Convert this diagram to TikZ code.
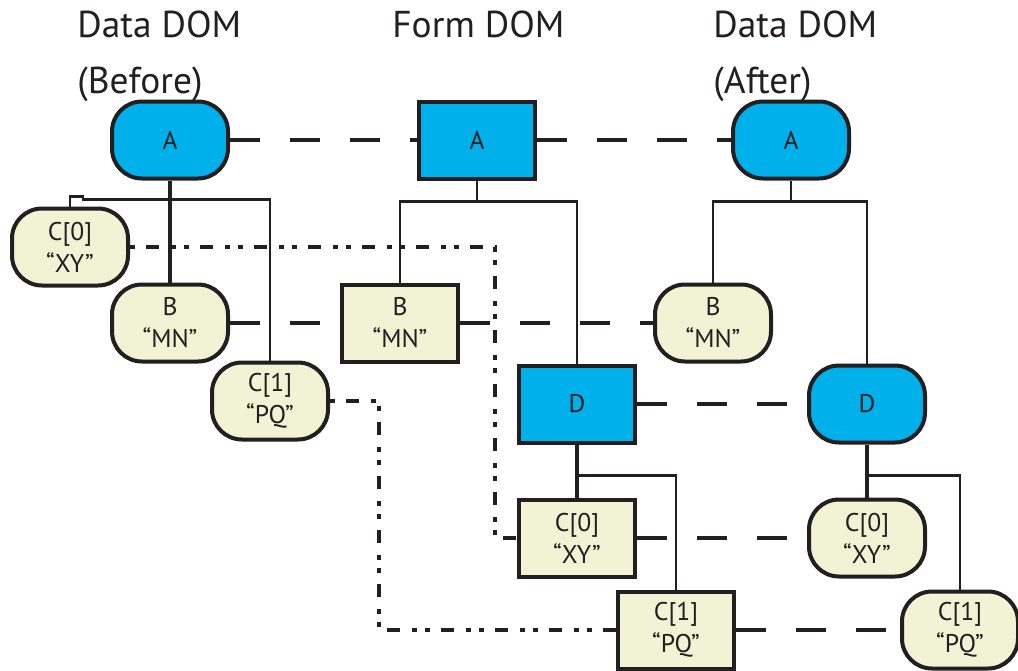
\documentclass[tikz,border=0pt]{standalone}
\usepackage{fontspec}
\setmainfont{PT Sans}
\usetikzlibrary{calc}
\definecolor{ink}{HTML}{231F20}
\definecolor{domblue}{HTML}{00B0EA}
\definecolor{domcream}{HTML}{F2F2D4}

\begin{document}
\begin{tikzpicture}[x=0.5pt,y=-0.5pt,color=ink]
\tikzstyle{box} = [rectangle, minimum width=58pt, minimum height=38.5pt, inner sep=0pt,
                   align=center, draw=ink, line width=2pt, fill=domcream,
                   font=\fontsize{12.8}{16}\selectfont]
\tikzstyle{datanode} = [box, rounded corners=15pt]
\tikzstyle{formnode} = [box]
\tikzstyle{keynode} = [fill=domblue]
\tikzstyle{title} = [anchor=base west, inner sep=0pt, font=\fontsize{18.7}{22}\selectfont]
\tikzstyle{link} = [line width=2pt, dash pattern=on 15pt off 15pt]
\tikzstyle{mapline} = [line width=2pt, dash pattern=on 2.5pt off 5.5pt on 6.5pt off 6pt on 2.5pt off 4pt]
\tikzstyle{trunk} = [line width=2pt]
\tikzstyle{branch} = [line width=1.2pt]
\useasboundingbox (0,0) rectangle (1018,670);
\node[title] (before) at (77,37) {Data DOM};
\node[title] (beforesub) at (77,93) {(Before)};
\node[title] (form) at (392,37) {Form DOM};
\node[title] (after) at (713,37) {Data DOM};
\node[title] (aftersub) at (713,93) {(After)};
\node[datanode, keynode] (bA) at (170,140) {A};
\node[formnode, keynode] (fA) at (477,140) {A};
\node[datanode, keynode] (aA) at (791,140) {A};
\node[datanode] (bC0) at (70,247) {C[0]\\“XY”};
\node[datanode] (bB) at (170,323) {B\\“MN”};
\node[formnode] (fB) at (400,323) {B\\“MN”};
\node[datanode] (aB) at (713,323) {B\\“MN”};
\node[datanode] (bC1) at (270,401) {C[1]\\“PQ”};
\node[formnode, keynode] (fD) at (577,404) {D};
\node[datanode, keynode] (aD) at (867,404) {D};
\node[formnode] (fC0) at (577,538) {C[0]\\“XY”};
\node[datanode] (aC0) at (867,538) {C[0]\\“XY”};
\node[formnode] (fC1) at (676,630) {C[1]\\“PQ”};
\node[datanode] (aC1) at (960,630) {C[1]\\“PQ”};
\draw[trunk] (bA) -- (bB);
\draw[branch] (bC1.north) |- ($(bA.south)+(0,19)$) -- ++(-87,0) -- ++(0,-3) -| (bC0.north);
\draw[branch] (fA.south) -- ($(fA.south)+(0,21)$);
\draw[branch] (fB.north) |- ($(fA.south)+(0,21)$) -| (fD.north);
\draw[trunk] (fD) -- (fC0);
\draw[branch] (fC1.north) |- ($(fD.south)+(0,31)$);
\draw[branch] (aA.south) -- ($(aA.south)+(0,21)$);
\draw[branch] (aB.north) |- ($(aA.south)+(0,21)$) -| (aD.north);
\draw[trunk] (aD) -- (aC0);
\draw[branch] (aC1.north) |- ($(aD.south)+(0,31)$);
\draw[link] (bA) -- (fA);
\draw[link] (fA) -- (aA);
\draw[link] (bB) -- (fB);
\draw[link] (fB) -- (aB);
\draw[link] (fD) -- (aD);
\draw[link] (fC0) -- (aC0);
\draw[link] (fC1) -- (aC1);
\draw[mapline] (bC0.east) -| ([xshift=-11pt]fC0.west) -- (fC0.west);
\draw[mapline] (bC1.east) -| ([xshift=-118.5pt]fC1.west) -- (fC1.west);
\end{tikzpicture}
\end{document}
